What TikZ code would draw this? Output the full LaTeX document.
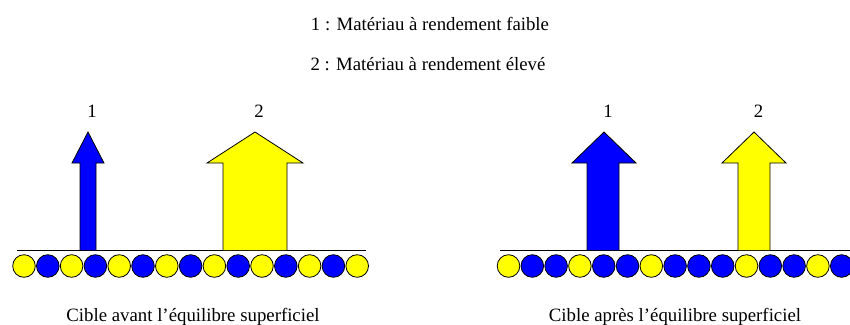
\documentclass[tikz,border=0pt]{standalone}
\usepackage{fontspec}
\setmainfont{Liberation Serif}
\definecolor{pblue}{RGB}{0,0,255}
\definecolor{pyellow}{RGB}{255,255,0}
\tikzset{
  txt/.style={inner sep=0pt, anchor=base, font=\fontsize{18.8}{22}\selectfont},
  atom/.style={draw=black, line width=0.8pt},
  ground/.style={draw=black, line width=0.9pt},
  bigarrow/.style={draw=black, line width=0.8pt, line join=miter},
}
\begin{document}
\begin{tikzpicture}[x=1pt,y=-1pt]
\useasboundingbox (0,0) rectangle (850,324);
% titles
\node[txt] (t1) at (430,30) {1 : Matériau à rendement faible};
\node[txt] (t2) at (428,70) {2 : Matériau à rendement élevé};
% captions
\node[txt] (c1) at (193,321) {Cible avant l’équilibre superficiel};
\node[txt] (c2) at (675,321) {Cible après l’équilibre superficiel};
% ground lines
\draw[ground] (17,250) -- (366,250);
\draw[ground] (500,250) -- (850,250);
% atoms left: Y B Y B ...
\foreach \i [evaluate=\i as \x using 24+\i*23.8] in {0,...,14}{
  \pgfmathparse{mod(\i,2)==0 ? 1 : 0}
  \ifnum\pgfmathresult=1
    \fill[pyellow] (\x,266) circle (11.3);
  \else
    \fill[pblue] (\x,266) circle (11.3);
  \fi
  \draw[atom] (\x,266) circle (11.3);
}
% atoms right
\foreach \c [count=\i from 0, evaluate=\i as \x using 508.5+\i*23.8] in {pyellow,pblue,pblue,pyellow,pblue,pblue,pyellow,pblue,pblue,pblue,pyellow,pblue,pblue,pyellow,pblue}{
  \fill[\c] (\x,266) circle (11.3);
  \draw[atom] (\x,266) circle (11.3);
}
% arrows: shaft left, shaft right, head left, head right, tip x
\newcommand{\uparrowshape}[6]{%
  \filldraw[bigarrow, fill=#6] (#1,250) -- (#1,163) -- (#3,163) -- (#5,132) -- (#4,163) -- (#2,163) -- (#2,250);
}
\uparrowshape{80}{96}{72}{104}{88}{pblue}
\uparrowshape{223}{287}{207}{303}{255}{pyellow}
\uparrowshape{587}{619}{572}{636}{604}{pblue}
\uparrowshape{738}{770}{722}{786}{754}{pyellow}
% arrow labels
\node[txt] (l1a) at (92,117) {1};
\node[txt] (l2a) at (259,117) {2};
\node[txt] (l1b) at (608,117) {1};
\node[txt] (l2b) at (758.5,117) {2};
\end{tikzpicture}
\end{document}
